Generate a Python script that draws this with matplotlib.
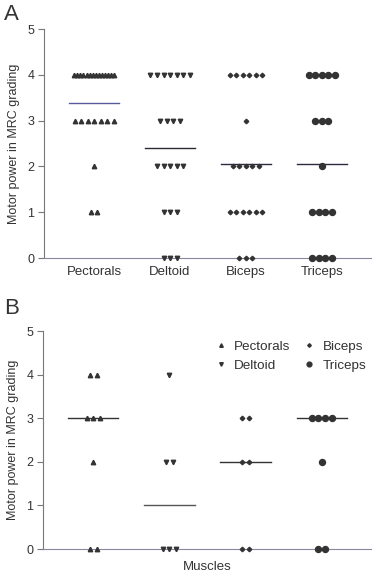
import matplotlib
matplotlib.use("Agg")
import matplotlib.pyplot as plt
import numpy as np

plt.rcParams['font.family'] = ['Liberation Sans', 'DejaVu Sans']

muscles = ["Pectorals", "Deltoid", "Biceps", "Triceps"]
grades = [0, 1, 2, 3, 4]

# Panel A: number of patients at each grade (0..4)
counts_a = {
    "Pectorals": [0, 2, 1, 7, 14],
    "Deltoid":   [3, 3, 5, 4, 7],
    "Biceps":    [3, 6, 5, 1, 6],
    "Triceps":   [4, 4, 1, 3, 5],
}
# Panel B: number of patients at each grade (0..4)
counts_b = {
    "Pectorals": [2, 0, 1, 3, 2],
    "Deltoid":   [3, 0, 2, 0, 1],
    "Biceps":    [2, 0, 2, 2, 0],
    "Triceps":   [2, 0, 1, 4, 0],
}

markers = {"Pectorals": "^", "Deltoid": "v", "Biceps": "D", "Triceps": "o"}
msizes = {"Pectorals": 3.2, "Deltoid": 3.2, "Biceps": 2.3, "Triceps": 4.3}
mcolor = "#333333"
txt = "#333333"

W, H = 372, 574
fig = plt.figure(figsize=(W / 100, H / 100), dpi=100)


def px_ax(left, right, top, bottom):
    return fig.add_axes([left / W, 1 - bottom / H, (right - left) / W, (bottom - top) / H])


def draw(ax, counts, stat, line_colors):
    for i, m in enumerate(muscles):
        vals = []
        for g, c in zip(grades, counts[m]):
            vals += [g] * c
            if c == 0:
                continue
            sp = min(0.086, 0.52 / max(c - 1, 1))
            offs = (np.arange(c) - (c - 1) / 2) * sp
            ax.plot(i + offs, [g] * c, linestyle="none", marker=markers[m],
                    ms=msizes[m], color=mcolor, mec=mcolor, clip_on=False, zorder=3)
        vals = np.array(vals)
        y = vals.mean() if stat == "mean" else np.median(vals)
        ax.plot([i - 0.33, i + 0.33], [y, y], color=line_colors[i], lw=1.0, zorder=2)
    ax.set_ylim(0, 5)
    ax.set_xlim(-0.66, 3.66)
    ax.set_yticks(range(6))
    ax.spines["top"].set_visible(False)
    ax.spines["right"].set_visible(False)
    ax.spines["left"].set_color("#777777")
    ax.spines["bottom"].set_color("#8888a0")
    ax.spines["left"].set_linewidth(0.8)
    ax.spines["bottom"].set_linewidth(0.8)
    ax.tick_params(axis="y", length=4, width=0.8, color="#777777", labelsize=9,
                   labelcolor=txt, pad=3)
    ax.set_ylabel("Motor power in MRC grading", fontsize=9, color=txt, labelpad=5)


axA = px_ax(44, 372, 29, 258)
draw(axA, counts_a, "mean", ["#5a5a9e", "#2a2a33", "#2a2a40", "#2a2a40"])
axA.set_xticks(range(4))
axA.set_xticklabels(muscles, fontsize=9.5, color=txt)
axA.tick_params(axis="x", length=0, pad=6)

axB = px_ax(43, 372, 331, 549)
draw(axB, counts_b, "median", ["#333333", "#555555", "#333333", "#333333"])
axB.set_xticks([])
axB.set_xlabel("Muscles", fontsize=9.5, color=txt, labelpad=9)

handles = [axB.plot([], [], linestyle="none", marker=markers[m], ms=msizes[m] * 0.8,
                    color=mcolor)[0] for m in muscles]
axB.legend(handles, muscles, loc="upper right", ncol=2, frameon=False, fontsize=9.7,
           labelcolor=txt, handlelength=0.8, handletextpad=0.6, columnspacing=1.0,
           bbox_to_anchor=(1.0, 0.98), borderaxespad=0.0, labelspacing=0.45)

fig.text(4 / W, 1 - 14 / H, "A", fontsize=16, color=txt, va="center", ha="left")
fig.text(4 / W, 1 - 308 / H, "B", fontsize=16, color=txt, va="center", ha="left")

fig.savefig("out.png", dpi=100)
